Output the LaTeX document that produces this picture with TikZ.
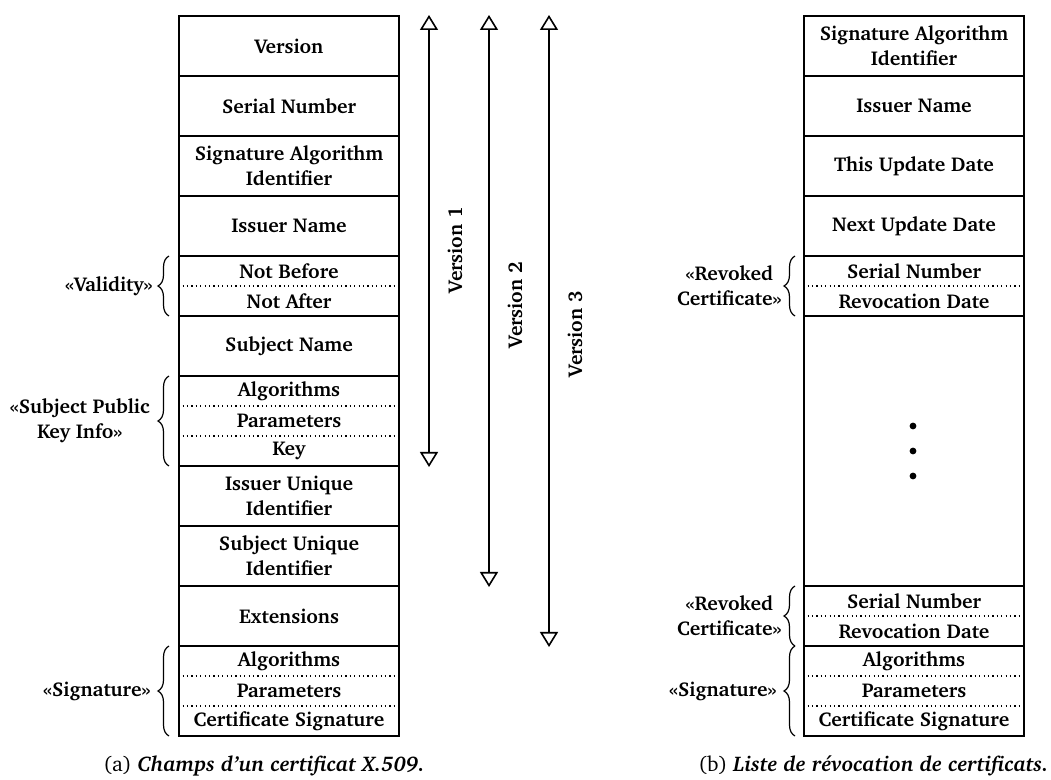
\documentclass[tikz,border=0pt]{standalone}
\usepackage[T1]{fontenc}
\usepackage{charter}
\usetikzlibrary{arrows.meta,decorations.pathreplacing}
\newcommand{\fieldfont}{\fontsize{10}{12.5}\selectfont\bfseries}
\newcommand{\capfont}{\fontsize{10.6}{13}\selectfont}
\tikzset{
  field/.style={draw, line width=0.9pt, minimum width=110pt, minimum height=30pt, inner sep=0pt, align=center, font=\fieldfont},
  grp/.style={draw, line width=0.9pt, minimum width=110pt, inner sep=0pt},
  sub/.style={inner sep=0pt, font=\fieldfont},
  sep/.style={line width=0.6pt, dash pattern=on 0.6pt off 1.6pt},
  lbl/.style={anchor=east, align=center, inner sep=0pt, font=\fieldfont},
  brc/.style={decorate, decoration={brace, amplitude=5.5pt}, line width=0.6pt},
  ver/.style={{Triangle[open,width=9pt,length=7.5pt]}-{Triangle[open,width=9pt,length=7.5pt]}, line width=0.8pt},
  vlbl/.style={rotate=90, inner sep=0pt, font=\fieldfont},
  dot/.style={fill=black},
}
\begin{document}
\begin{tikzpicture}[x=0.5pt,y=-0.5pt]
\useasboundingbox (0,0) rectangle (1051,780);

% ---------- left table (a) ----------
\node[field] (a1) at (289,46) {Version};
\node[field] (a2) at (289,106) {Serial Number};
\node[field] (a3) at (289,166) {Signature Algorithm\\Identifier};
\node[field] (a4) at (289,226) {Issuer Name};
\node[grp, minimum height=30pt] (av) at (289,286) {};
\node[sub] (av1) at (289,271) {Not Before};
\node[sub] (av2) at (289,301) {Not After};
\draw[sep] (av.west |- 0,286) -- (av.east |- 0,286);
\node[field] (a5) at (289,346) {Subject Name};
\node[grp, minimum height=45pt] (ak) at (289,421) {};
\node[sub] (ak1) at (289,391) {Algorithms};
\node[sub] (ak2) at (289,421) {Parameters};
\node[sub] (ak3) at (289,451) {Key};
\draw[sep] (ak.west |- 0,406) -- (ak.east |- 0,406);
\draw[sep] (ak.west |- 0,436) -- (ak.east |- 0,436);
\node[field] (a6) at (289,496) {Issuer Unique\\Identifier};
\node[field] (a7) at (289,556) {Subject Unique\\Identifier};
\node[field] (a8) at (289,616) {Extensions};
\node[grp, minimum height=45pt] (as) at (289,691) {};
\node[sub] (as1) at (289,661) {Algorithms};
\node[sub] (as2) at (289,691) {Parameters};
\node[sub] (as3) at (289,721) {Certificate Signature};
\draw[sep] (as.west |- 0,676) -- (as.east |- 0,676);
\draw[sep] (as.west |- 0,706) -- (as.east |- 0,706);

% braces and labels (a)
\coordinate (bv1) at (169,316); \coordinate (bv2) at (169,256);
\draw[brc] (bv1) -- (bv2);
\node[lbl] (lv) at (153,286) {\guillemotleft Validity\guillemotright};
\coordinate (bk1) at (169,466); \coordinate (bk2) at (169,376);
\draw[brc] (bk1) -- (bk2);
\node[lbl] (lk) at (150,421) {\guillemotleft Subject Public\\Key Info\guillemotright};
\coordinate (bs1) at (169,736); \coordinate (bs2) at (169,646);
\draw[brc] (bs1) -- (bs2);
\node[lbl] (ls) at (151,691) {\guillemotleft Signature\guillemotright};

% version arrows
\coordinate (v1t) at (429,15); \coordinate (v1b) at (429,467);
\coordinate (v2t) at (489,15); \coordinate (v2b) at (489,587);
\coordinate (v3t) at (549,15); \coordinate (v3b) at (549,647);
\draw[ver] (v1t) -- (v1b);
\draw[ver] (v2t) -- (v2b);
\draw[ver] (v3t) -- (v3b);
\node[vlbl] (vl1) at (455,250) {Version 1};
\node[vlbl] (vl2) at (515,305) {Version 2};
\node[vlbl] (vl3) at (575,334) {Version 3};

% ---------- right table (b) ----------
\node[field] (b1) at (914,46) {Signature Algorithm\\Identifier};
\node[field] (b2) at (914,106) {Issuer Name};
\node[field] (b3) at (914,166) {This Update Date};
\node[field] (b4) at (914,226) {Next Update Date};
\node[grp, minimum height=30pt] (br1) at (914,286) {};
\node[sub] (br11) at (914,271) {Serial Number};
\node[sub] (br12) at (914,301) {Revocation Date};
\draw[sep] (br1.west |- 0,286) -- (br1.east |- 0,286);
\node[grp, minimum height=135pt] (be) at (914,451) {};
\fill[dot] (913,426) circle[radius=1.7pt];
\fill[dot] (913,451) circle[radius=1.7pt];
\fill[dot] (913,476) circle[radius=1.7pt];
\node[grp, minimum height=30pt] (br2) at (914,616) {};
\node[sub] (br21) at (914,601) {Serial Number};
\node[sub] (br22) at (914,631) {Revocation Date};
\draw[sep] (br2.west |- 0,616) -- (br2.east |- 0,616);
\node[grp, minimum height=45pt] (bs) at (914,691) {};
\node[sub] (bs1) at (914,661) {Algorithms};
\node[sub] (bs2) at (914,691) {Parameters};
\node[sub] (bs3) at (914,721) {Certificate Signature};
\draw[sep] (bs.west |- 0,676) -- (bs.east |- 0,676);
\draw[sep] (bs.west |- 0,706) -- (bs.east |- 0,706);

% braces and labels (b)
\coordinate (cr1) at (795,316); \coordinate (cr2) at (795,256);
\draw[brc] (cr1) -- (cr2);
\node[lbl] (lr1) at (782,286) {\guillemotleft Revoked\\Certificate\guillemotright};
\coordinate (cr3) at (795,646); \coordinate (cr4) at (795,586);
\draw[brc] (cr3) -- (cr4);
\node[lbl] (lr2) at (782,616) {\guillemotleft Revoked\\Certificate\guillemotright};
\coordinate (cs1) at (795,736); \coordinate (cs2) at (795,646);
\draw[brc] (cs1) -- (cs2);
\node[lbl] (lsb) at (777,691) {\guillemotleft Signature\guillemotright};

% captions
\node[anchor=base west, inner sep=0pt, font=\capfont] (capa) at (103,772) {(a) \textbf{\textit{Champs d'un certificat X.509.}}};
\node[anchor=base west, inner sep=0pt, font=\capfont] (capb) at (698,772) {(b) \textbf{\textit{Liste de r\'evocation de certificats.}}};
\end{tikzpicture}
\end{document}
